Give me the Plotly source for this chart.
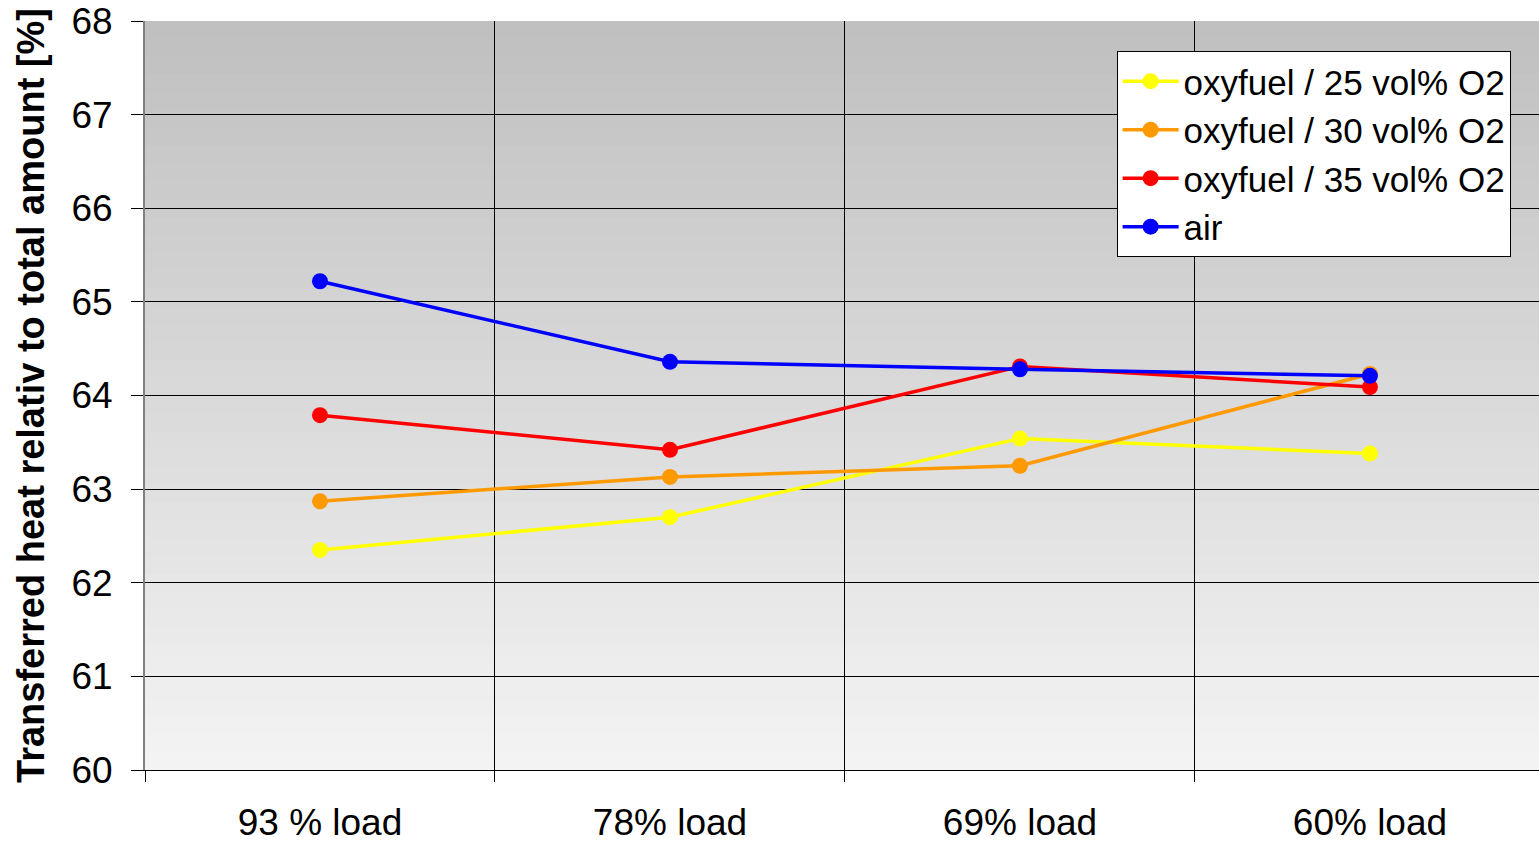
import plotly.graph_objects as go

# Load cases on the x axis
categories = ["93 % load", "78% load", "69% load", "60% load"]

# Transferred heat relative to total amount [%]
oxy25 = [62.35, 62.70, 63.54, 63.38]
oxy30 = [62.87, 63.13, 63.25, 64.23]
oxy35 = [63.79, 63.42, 64.31, 64.09]
air = [65.22, 64.36, 64.28, 64.21]

series = [
    ("oxyfuel / 25 vol% O2", oxy25, "#FFFF00"),
    ("oxyfuel / 30 vol% O2", oxy30, "#FF9900"),
    ("oxyfuel / 35 vol% O2", oxy35, "#FF0000"),
    ("air", air, "#0000FF"),
]

FONT = "Liberation Sans, Arial, sans-serif"
xpos = list(range(len(categories)))

fig = go.Figure()
for name, vals, color in series:
    fig.add_trace(go.Scatter(
        x=xpos, y=vals, name=name, mode="lines+markers",
        line=dict(color=color, width=3.5),
        marker=dict(color=color, size=16),
    ))

# Vertical gradient background (dark grey at top, light grey at bottom)
n_bands = 42
top, bottom = 192, 243
shapes = []
for i in range(n_bands):
    t = i / (n_bands - 1)
    g = round(top + (bottom - top) * t)
    y0 = max(0.0, 1 - (i + 1) / n_bands - 0.004)
    shapes.append(dict(
        type="rect", xref="x domain", yref="y domain",
        x0=0, x1=1, y0=y0, y1=1 - i / n_bands,
        fillcolor=f"rgb({g},{g},{g})", line=dict(width=0), layer="below",
    ))

fig.update_layout(
    width=1539, height=842,
    margin=dict(l=145, r=0, t=21, b=72, autoexpand=False),
    paper_bgcolor="white",
    plot_bgcolor="rgba(0,0,0,0)",
    shapes=shapes,
    font=dict(family=FONT, size=36, color="black"),
    showlegend=True,
    legend=dict(
        x=0.697, y=0.96, xanchor="left", yanchor="top",
        bgcolor="white", bordercolor="black", borderwidth=1,
        font=dict(family=FONT, size=35, color="black"),
        tracegroupgap=0, itemwidth=56,
    ),
    xaxis=dict(
        range=[-0.5, 3.483], automargin=False,
        tickmode="array", tickvals=xpos, ticktext=categories,
        showgrid=False, ticks="", zeroline=False,
        showline=True, linecolor="black", linewidth=1,
        tickfont=dict(family=FONT, size=37),
        ticklabelstandoff=20,
        minor=dict(tick0=-0.5, dtick=1, showgrid=True, gridcolor="black",
                   gridwidth=1, ticks="outside", ticklen=11,
                   tickcolor="black", tickwidth=1),
    ),
    yaxis=dict(
        range=[60, 68], dtick=1, automargin=False,
        showgrid=True, gridcolor="black", gridwidth=1,
        ticks="outside", ticklen=12, tickcolor="black", tickwidth=1,
        zeroline=False, showline=True, linecolor="#808080", linewidth=2,
        tickfont=dict(family=FONT, size=37),
        ticklabelstandoff=11,
        title=dict(text="<b>Transferred heat relativ to total amount [%]</b>",
                   font=dict(family=FONT, size=38), standoff=15),
    ),
)

fig.write_html("out.html")
